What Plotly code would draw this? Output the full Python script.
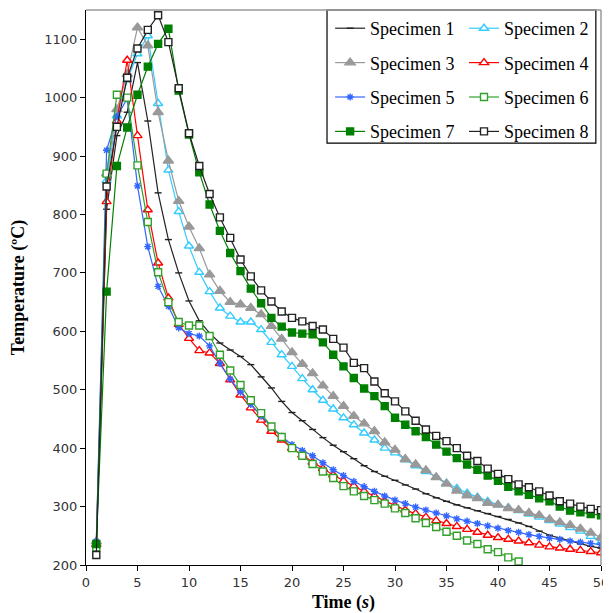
import plotly.graph_objects as go

# time axis (s)
time = list(range(1, 51))

# temperatures (ºC)
spec1 = [230, 809, 935, 975, 1060, 960, 837, 757, 700, 652, 618, 597, 580, 568, 557, 543, 522, 503, 480, 461,
         447, 432, 418, 405, 394, 382, 370, 360, 352, 345, 337, 330, 322, 315, 309, 303, 298, 293, 288, 283,
         278, 272, 266, 258, 251, 246, 241, 236, 232, 229]
spec2 = [235, 858, 969, 1030, 1075, 1106, 990, 876, 805, 746, 701, 668, 640, 626, 616, 616, 603, 581, 560, 540,
         519, 500, 482, 467, 452, 440, 426, 414, 400, 392, 380, 370, 360, 350, 340, 331, 323, 316, 309, 303,
         298, 293, 287, 282, 276, 270, 264, 258, 249, 239]
spec3 = [240, 870, 980, 1040, 1120, 1089, 975, 892, 823, 779, 742, 697, 669, 650, 646, 640, 629, 609, 587, 564,
         544, 528, 507, 489, 472, 455, 442, 429, 410, 397, 381, 372, 362, 350, 339, 327, 319, 314, 306, 303,
         297, 294, 289, 285, 278, 273, 268, 262, 255, 247]
spec4 = [235, 822, 960, 1064, 935, 808, 717, 657, 612, 588, 567, 563, 545, 517, 491, 469, 448, 429, 414, 400,
         388, 376, 365, 354, 344, 335, 326, 318, 309, 301, 294, 288, 282, 276, 271, 266, 261, 256, 251, 247,
         244, 241, 238, 234, 231, 229, 227, 225, 223, 221]
spec5 = [240, 910, 968, 998, 849, 745, 677, 643, 606, 596, 592, 575, 545, 518, 496, 475, 455, 437, 420, 406,
         396, 387, 375, 363, 353, 343, 334, 326, 318, 311, 305, 299, 294, 289, 284, 279, 275, 271, 267, 263,
         259, 256, 252, 249, 246, 244, 241, 239, 237, 235]
spec6 = [230, 870, 1005, 1000, 884, 787, 701, 650, 616, 610, 610, 592, 560, 533, 508, 482, 460, 437, 419, 400,
         387, 373, 360, 349, 335, 326, 318, 311, 305, 297, 289, 280, 272, 265, 257, 250, 242, 236, 227, 222,
         213, 206]
spec7 = [236, 668, 883, 949, 1005, 1053, 1092, 1118, 1012, 937, 872, 817, 772, 734, 703, 673, 648, 623, 608, 598,
         596, 595, 581, 560, 540, 520, 502, 489, 472, 452, 440, 429, 419, 406, 394, 383, 372, 363, 353, 344,
         334, 326, 320, 314, 309, 300, 293, 290, 287, 285]
spec8 = [217, 848, 950, 1034, 1084, 1116, 1141, 1095, 1016, 939, 883, 835, 795, 760, 723, 694, 670, 651, 634, 623,
         617, 609, 603, 587, 572, 546, 537, 514, 494, 480, 463, 447, 432, 421, 412, 400, 387, 378, 365, 356,
         347, 338, 333, 326, 319, 309, 305, 300, 296, 294]

names = ['Specimen 1', 'Specimen 2', 'Specimen 3', 'Specimen 4',
         'Specimen 5', 'Specimen 6', 'Specimen 7', 'Specimen 8']
series = [spec1, spec2, spec3, spec4, spec5, spec6, spec7, spec8]

# line colour, marker symbol, marker fill, marker size
styles = [
    ('#222222', 'line-ew', '#222222', 5),
    ('#33ccff', 'triangle-up', 'white', 8),
    ('#999999', 'triangle-up', '#999999', 9),
    ('#ff0000', 'triangle-up', 'white', 8),
    ('#3366ff', 'asterisk', '#3366ff', 6),
    ('#33a02c', 'square', 'white', 7),
    ('#008000', 'square', '#008000', 7),
    ('#222222', 'square', 'white', 7),
]

fig = go.Figure()
for i, (name, ys, (col, sym, fill, size)) in enumerate(zip(names, series, styles)):
    fig.add_trace(go.Scatter(
        x=time[:len(ys)], y=ys, name=name, mode='lines+markers',
        legend='legend' if i % 2 == 0 else 'legend2',
        legendgroup=name,
        line=dict(color=col, width=1.2),
        marker=dict(symbol=sym, size=size, color=fill,
                    line=dict(color=col, width=1.4))
    ))

tick_font = dict(family='DejaVu Sans', size=13, color='#333333')
title_font = dict(family='Liberation Serif', size=18, color='black')
leg_font = dict(family='Liberation Serif', size=18, color='black')

# the page adds an 8px body margin, so the figure is made 8px smaller
fig.update_layout(
    width=603, height=605,
    margin=dict(l=78, r=10, t=2, b=48),
    paper_bgcolor='white', plot_bgcolor='white',
    xaxis=dict(range=[0, 50], tick0=0, dtick=5, showgrid=False, zeroline=False,
               showline=True, linecolor='black', linewidth=1,
               ticks='outside', ticklen=5, tickcolor='black',
               tickfont=tick_font, automargin=False,
               title=dict(text='<b>Time (<i>s</i>)</b>', font=title_font, standoff=6)),
    yaxis=dict(range=[200, 1150], tick0=200, dtick=100, showgrid=False, zeroline=False,
               showline=True, linecolor='black', linewidth=1,
               ticks='outside', ticklen=5, tickcolor='black',
               tickfont=tick_font, automargin=False,
               title=dict(text='<b>Temperature (ºC)</b>', font=title_font, standoff=15)),
    legend=dict(x=0.474, xanchor='left', y=1.0, yanchor='top',
                bgcolor='rgba(0,0,0,0)', borderwidth=0, font=leg_font,
                itemwidth=30, tracegroupgap=8),
    legend2=dict(x=0.734, xanchor='left', y=1.0, yanchor='top',
                 bgcolor='rgba(0,0,0,0)', borderwidth=0, font=leg_font,
                 itemwidth=30, tracegroupgap=8),
    showlegend=True,
)

# legend frame
fig.add_shape(type='rect', xref='paper', yref='paper', x0=0.468, x1=0.990, y0=0.760, y1=1.0,
              line=dict(color='black', width=1.2), fillcolor='white', layer='below')

# grey frame on top and right
fig.add_shape(type='line', xref='paper', yref='paper', x0=0, x1=1, y0=1, y1=1,
              line=dict(color='#999999', width=1.5))
fig.add_shape(type='line', xref='paper', yref='paper', x0=1, x1=1, y0=0, y1=1,
              line=dict(color='#999999', width=1.5))

fig.write_html("out.html")
